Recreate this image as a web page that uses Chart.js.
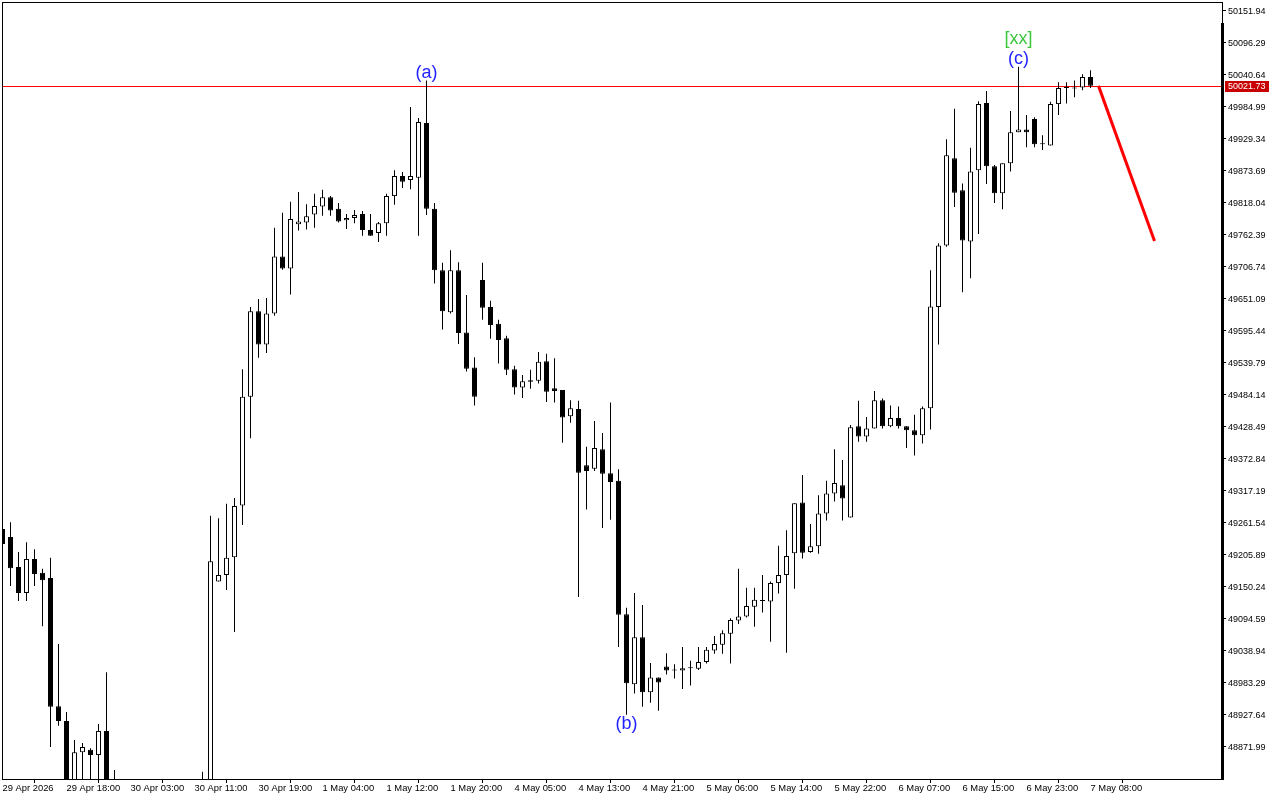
<!DOCTYPE html>
<html><head><meta charset="utf-8">
<script src="https://cdn.jsdelivr.net/npm/chart.js@4.4.1/dist/chart.umd.min.js"></script>
<style>html,body{margin:0;padding:0;background:#fff;overflow:hidden}canvas{display:block}</style>
</head><body>
<canvas id="c" width="1280" height="800"></canvas>
<script>
// ---- data ----
const tickLabels = ['29 Apr 2026','29 Apr 18:00','30 Apr 03:00','30 Apr 11:00','30 Apr 19:00','1 May 04:00','1 May 12:00','1 May 20:00','4 May 05:00','4 May 13:00','4 May 21:00','5 May 06:00','5 May 14:00','5 May 22:00','6 May 07:00','6 May 15:00','6 May 23:00','7 May 08:00'];
const priceTicks = [50151.94,50096.29,50040.64,49984.99,49929.34,49873.69,49818.04,49762.39,49706.74,49651.09,49595.44,49539.79,49484.14,49428.49,49372.84,49317.19,49261.54,49205.89,49150.24,49094.59,49038.94,48983.29,48927.64,48871.99];
const opens  = [49251,49237,49185,49140,49199,49175,49166,48943,48917,48800,48863,48867,48858,48900,48790,48770,48745,48760,48780,48770,48760,48775,48765,48770,48785,48780,48800,49160,49171,49202,49292,49481,49630,49572,49626,49725,49704,49781,49784,49798,49812,49828,49808,49788,49792,49799,49771,49766,49783,49830,49865,49858,49862,49957,49808,49701,49628,49701,49593,49532,49684,49637,49608,49583,49529,49497,49510,49509,49543,49496,49493,49447,49460,49362,49356,49390,49348,49335,49103,48981,49063,48967,48993,49012,49005,49005,49009,49008,49020,49040,49050,49069,49092,49099,49116,49127,49125,49157,49171,49209,49297,49211,49221,49278,49313,49327,49271,49430,49412,49426,49475,49430,49444,49430,49423,49414,49461,49637,49744,49896,49840,49751,49875,49992,49882,49835,49887,49941,49946,49964,49920,49918,49990,50018,50019,50019,50037];
const highs  = [49260,49263,49211,49228,49216,49182,49201,49051,48933,48884,48879,48870,48912,49002,48832,48800,48790,48805,48810,48795,48790,48800,48790,48805,48810,48829,49274,49270,49295,49305,49529,49637,49651,49653,49775,49801,49820,49837,49816,49834,49841,49830,49818,49799,49806,49804,49799,49785,49834,49875,49872,49985,49966,50031,49818,49714,49736,49715,49658,49550,49714,49648,49615,49587,49535,49519,49528,49559,49556,49548,49493,49475,49474,49394,49439,49418,49471,49355,49114,49140,49119,49018,48993,49035,49016,49046,49022,49046,49046,49065,49075,49096,49182,49149,49149,49171,49160,49222,49249,49296,49345,49260,49310,49335,49390,49371,49432,49474,49446,49491,49478,49466,49464,49430,49450,49464,49701,49748,49929,49982,49852,49914,49995,50013,49884,49887,49978,50055,49971,49967,49936,49994,50028,50028,50031,50042,50049];
const lows   = [49215,49152,49126,49126,49152,49082,48872,48909,48780,48790,48805,48800,48810,48760,48740,48720,48700,48730,48750,48740,48730,48750,48740,48745,48760,48750,48790,49160,49145,49072,49258,49409,49549,49557,49622,49702,49659,49770,49772,49775,49796,49796,49784,49773,49783,49761,49761,49750,49761,49815,49844,49842,49761,49797,49678,49598,49626,49573,49525,49466,49615,49582,49539,49519,49485,49479,49495,49504,49472,49471,49401,49436,49133,49285,49352,49253,49267,49046,48928,48965,48942,48949,48935,48998,48991,48973,48979,49006,49017,49034,49034,49017,49086,49097,49081,49106,49055,49139,49036,49147,49200,49210,49208,49266,49299,49266,49271,49403,49403,49426,49426,49428,49426,49392,49379,49400,49424,49572,49742,49811,49663,49687,49764,49851,49818,49807,49873,49941,49915,49915,49910,49918,49971,49991,50002,50014,50018];
const closes = [49225,49183,49140,49199,49173,49162,48942,48917,48795,48863,48872,48858,48900,48790,48770,48745,48760,48780,48770,48760,48775,48765,48770,48785,48780,48800,49195,49171,49201,49291,49481,49630,49572,49626,49725,49704,49790,49786,49795,49813,49828,49805,49786,49792,49797,49771,49761,49783,49830,49865,49855,49865,49959,49808,49701,49630,49701,49592,49530,49481,49636,49606,49580,49528,49497,49508,49507,49542,49490,49491,49445,49461,49349,49352,49392,49347,49333,49102,48983,49063,48967,48993,48984,49005,49005,49009,49009,49020,49041,49051,49070,49093,49099,49117,49128,49126,49157,49171,49204,49296,49210,49221,49278,49313,49331,49304,49428,49412,49426,49475,49430,49444,49430,49423,49414,49461,49638,49744,49901,49836,49753,49873,49990,49882,49835,49887,49941,49946,49941,49920,49920,49990,50018,50018,50017,50037,50021.73];
const bidPrice = 50021.73;
const projIdx = [137, 144];
const projVals = [50021.73, 49752];
const waveIdx  = [53, 78, 127, 127];
const waveText = ['(a)', '(b)', '(c)', '[xx]'];
const waveSide = ['above', 'below', 'above', 'above2'];
const waveColor = ['#2323ff', '#2323ff', '#2323ff', '#3cc83c'];

// ---- chart ----
const tickIdx = tickLabels.map((_, k) => k * 8);
const bodyColors = opens.map((o, i) => closes[i] > o ? '#ffffff' : '#000000');

const overlay = {
  id: 'overlay',
  beforeDraw(chart) {
    const c = chart.ctx; c.save(); c.fillStyle = '#fff'; c.fillRect(0, 0, chart.width, chart.height); c.restore();
  },
  beforeDatasetsDraw(chart) {
    const {ctx, chartArea: a, scales: {y}} = chart;
    const py = Math.round(y.getPixelForValue(bidPrice)) + 0.5;
    ctx.save(); ctx.strokeStyle = '#ff0000'; ctx.lineWidth = 1;
    ctx.beginPath(); ctx.moveTo(a.left, py); ctx.lineTo(a.right, py); ctx.stroke(); ctx.restore();
  },
  afterDraw(chart) {
    const {ctx, chartArea: a, scales: {x, y}} = chart;
    ctx.save();
    ctx.strokeStyle = '#000'; ctx.lineWidth = 1;
    ctx.strokeRect(a.left + 0.5, a.top + 0.5, a.right - a.left, a.bottom - a.top);
    ctx.fillStyle = '#000';
    ctx.fillRect(a.right - 1, a.top + 21, 3, a.bottom - a.top - 20);
    // price label
    const py = Math.round(y.getPixelForValue(bidPrice));
    ctx.fillStyle = '#c80000';
    ctx.fillRect(a.right + 3, py - 5, 44, 11);
    ctx.fillStyle = '#fff';
    ctx.font = '9px "Liberation Sans", Arial, sans-serif';
    ctx.textAlign = 'left'; ctx.textBaseline = 'middle';
    ctx.fillText(bidPrice.toFixed(2), a.right + 6, py + 1);
    // wave labels
    ctx.font = '18px "Liberation Sans", Arial, sans-serif';
    ctx.textAlign = 'center'; ctx.textBaseline = 'middle';
    waveIdx.forEach((idx, k) => {
      const px = x.getPixelForValue(idx);
      let ty;
      if (waveSide[k] === 'below') ty = y.getPixelForValue(lows[idx]) + 9;
      else if (waveSide[k] === 'above2') ty = y.getPixelForValue(highs[idx]) - 28;
      else ty = y.getPixelForValue(highs[idx]) - 8;
      ctx.fillStyle = waveColor[k];
      ctx.fillText(waveText[k], px, ty);
    });
    ctx.restore();
  }
};

Chart.defaults.font.family = '"Liberation Sans", Arial, sans-serif';
Chart.defaults.font.size = 9;
Chart.defaults.color = '#000';

new Chart(document.getElementById('c'), {
  type: 'bar',
  data: {
    datasets: [
      {
        label: 'body',
        data: opens.map((o, i) => ({x: i, y: [o, closes[i]]})),
        backgroundColor: bodyColors,
        borderColor: '#000',
        borderWidth: 1,
        borderSkipped: false,
        barThickness: 5,
        minBarLength: 1,
        inflateAmount: 0,
        grouped: false,
        clip: 0
      },
      {
        label: 'wick',
        data: lows.map((l, i) => ({x: i, y: [l, highs[i]]})),
        backgroundColor: '#000',
        borderWidth: 0,
        barThickness: 1,
        inflateAmount: 0,
        grouped: false,
        clip: 0
      },
      {
        type: 'line',
        label: 'projection',
        data: projIdx.map((v, k) => ({x: v, y: projVals[k]})),
        borderColor: '#ff0000',
        borderWidth: 3,
        pointRadius: 0,
        fill: false,
        clip: 0
      }
    ]
  },
  options: {
    responsive: false,
    devicePixelRatio: 1,
    animation: false,
    layout: {padding: {left: 2, top: 2, right: 0, bottom: 0}},
    plugins: {legend: {display: false}, tooltip: {enabled: false}},
    scales: {
      x: {
        type: 'linear',
        offset: false,
        min: -0.0625,
        max: 152.4375,
        grid: {display: true, drawOnChartArea: false, drawTicks: true, tickLength: 4, color: '#000'},
        border: {display: true, color: '#000'},
        afterBuildTicks: s => { s.ticks = tickIdx.map(v => ({value: v})); },
        afterFit: s => { s.height = 21; s.paddingLeft = 0; s.paddingRight = 0; },
        ticks: {
          autoSkip: false, maxRotation: 0, minRotation: 0, align: 'start', padding: 0, color: '#000',
          font: {size: 9.4},
          callback: (v, i) => tickLabels[i]
        }
      },
      y: {
        type: 'linear',
        position: 'right',
        min: 48816.34,
        max: 50167.59,
        grid: {display: true, drawOnChartArea: false, drawTicks: true, tickLength: 4, color: '#000'},
        border: {display: true, color: '#000'},
        afterBuildTicks: s => { s.ticks = priceTicks.map(v => ({value: v})); },
        afterFit: s => { s.width = 58; s.paddingTop = 0; s.paddingBottom = 0; },
        ticks: {padding: 2, labelOffset: 1, color: '#000', callback: v => v.toFixed(2)}
      }
    }
  },
  plugins: [overlay]
});
</script>
</body></html>
